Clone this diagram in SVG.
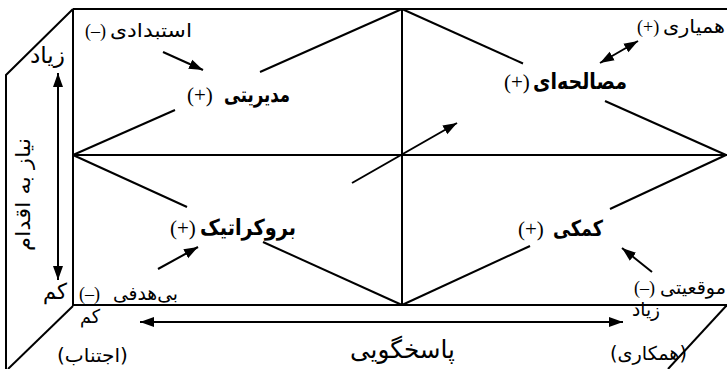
<svg xmlns="http://www.w3.org/2000/svg" width="727" height="369" viewBox="0 0 727 369">
<style>
.ln{stroke:#000;stroke-width:2;fill:none}
.ar{stroke:#000;stroke-width:2;fill:none}
.b{font-family:"DejaVu Sans",sans-serif;font-weight:bold;font-size:22px;fill:#000}
.r{font-family:"DejaVu Sans",sans-serif;font-size:19px;fill:#000}
.p{font-family:"Liberation Serif",serif;font-size:21px;fill:#000}
.pr{font-family:"Liberation Serif",serif;font-size:18px;fill:#000}
</style>
<defs>
<marker id="ah" markerUnits="userSpaceOnUse" markerWidth="16" markerHeight="12" refX="14" refY="5" orient="auto-start-reverse" viewBox="0 0 16 10">
<path d="M0,0 L14,5 L0,10 z" fill="#000"/>
</marker>
</defs>
<rect width="727" height="369" fill="#fff"/>
<g id="frame">
<line class="ln" x1="73" y1="9" x2="727" y2="9"/>
<line class="ln" x1="73" y1="9" x2="73" y2="306"/>
<line class="ln" x1="73" y1="305" x2="727" y2="305"/>
<line class="ln" x1="73" y1="155" x2="727" y2="155"/>
<line class="ln" x1="402" y1="9" x2="402" y2="305"/>
<polyline class="ln" points="73,9 6,75 6,369"/>
<line class="ln" x1="73" y1="306" x2="8" y2="369"/>
<line class="ln" x1="727" y1="305" x2="668" y2="369"/>
</g>
<g id="connectors">
<line class="ln" x1="402" y1="9" x2="260" y2="72"/>
<line class="ln" x1="175" y1="110" x2="73" y2="155"/>
<line class="ln" x1="402" y1="9" x2="523" y2="63.5"/>
<line class="ln" x1="605" y1="101" x2="726" y2="155"/>
<line class="ln" x1="73" y1="155" x2="187" y2="207"/>
<line class="ln" x1="263" y1="242" x2="402" y2="305"/>
<line class="ln" x1="402" y1="305" x2="530" y2="246"/>
<line class="ln" x1="610" y1="209" x2="726" y2="155"/>
<line class="ar" x1="58" y1="73" x2="58" y2="280" marker-start="url(#ah)" marker-end="url(#ah)"/>
<line class="ar" x1="140" y1="322" x2="623" y2="322" marker-start="url(#ah)" marker-end="url(#ah)"/>
<line class="ar" x1="163" y1="52" x2="203" y2="70" marker-end="url(#ah)"/>
<line class="ar" x1="600" y1="63" x2="638" y2="41" marker-start="url(#ah)" marker-end="url(#ah)"/>
<line class="ar" x1="352" y1="183" x2="457" y2="123" marker-end="url(#ah)"/>
<line class="ar" x1="158" y1="269" x2="198" y2="247" marker-end="url(#ah)"/>
<line class="ar" x1="652" y1="272" x2="622" y2="248" marker-end="url(#ah)"/>
</g>
<g id="node-modiriyati">
<text class="b" x="290" y="102" text-anchor="end" textLength="66" lengthAdjust="spacingAndGlyphs">مدیریتی</text>
<text class="p" x="187" y="102">(+)</text>
</g>
<g id="node-mosalehei">
<text class="b" x="627" y="89" text-anchor="end" textLength="94" lengthAdjust="spacingAndGlyphs">مصالحه‌ای</text>
<text class="p" x="504" y="89">(+)</text>
</g>
<g id="node-bureaucratic">
<text class="b" x="296" y="235" text-anchor="end" textLength="96" lengthAdjust="spacingAndGlyphs">بروکراتیک</text>
<text class="p" x="170" y="235">(+)</text>
</g>
<g id="node-komaki">
<text class="b" x="603" y="236" text-anchor="end" textLength="50" lengthAdjust="spacingAndGlyphs">کمکی</text>
<text class="p" x="518" y="236">(+)</text>
</g>
<g id="node-estebdadi">
<text class="r" x="192" y="37" text-anchor="end" textLength="82" lengthAdjust="spacingAndGlyphs">استبدادی</text>
<text class="pr" x="85" y="37">(–)</text>
</g>
<g id="node-hamyari">
<text class="r" x="725" y="33" text-anchor="end" textLength="62" lengthAdjust="spacingAndGlyphs">همیاری</text>
<text class="pr" x="637" y="33">(+)</text>
</g>
<g id="node-bihadafi">
<text class="r" x="178" y="300" text-anchor="end" textLength="65" lengthAdjust="spacingAndGlyphs">بی‌هدفی</text>
<text class="pr" x="79" y="300">(–)</text>
</g>
<g id="node-moghiyati">
<text class="r" x="726" y="294" text-anchor="end" textLength="66" lengthAdjust="spacingAndGlyphs">موقعیتی</text>
<text class="pr" x="634" y="294">(–)</text>
</g>
<g id="axis-labels">
<text class="r" style="font-size:22px" x="65" y="63" text-anchor="end" textLength="35" lengthAdjust="spacingAndGlyphs">زیاد</text>
<text class="r" style="font-size:22px" x="67" y="299" text-anchor="end" textLength="24" lengthAdjust="spacingAndGlyphs">کم</text>
<text class="r" x="100" y="323" text-anchor="end" textLength="20" lengthAdjust="spacingAndGlyphs">کم</text>
<text class="r" x="128" y="362" text-anchor="end" textLength="71" lengthAdjust="spacingAndGlyphs">(اجتناب)</text>
<text class="r" style="font-size:25px" x="455" y="358" text-anchor="end" textLength="105" lengthAdjust="spacingAndGlyphs">پاسخگویی</text>
<text class="r" x="660" y="316" text-anchor="end" textLength="28" lengthAdjust="spacingAndGlyphs">زیاد</text>
<text class="r" x="687" y="360" text-anchor="end" textLength="77" lengthAdjust="spacingAndGlyphs">(همکاری)</text>
<text class="r" style="font-size:20px" transform="translate(30,251) rotate(-90)" text-anchor="start" textLength="113" lengthAdjust="spacingAndGlyphs">نیاز به اقدام</text>
</g>
</svg>
